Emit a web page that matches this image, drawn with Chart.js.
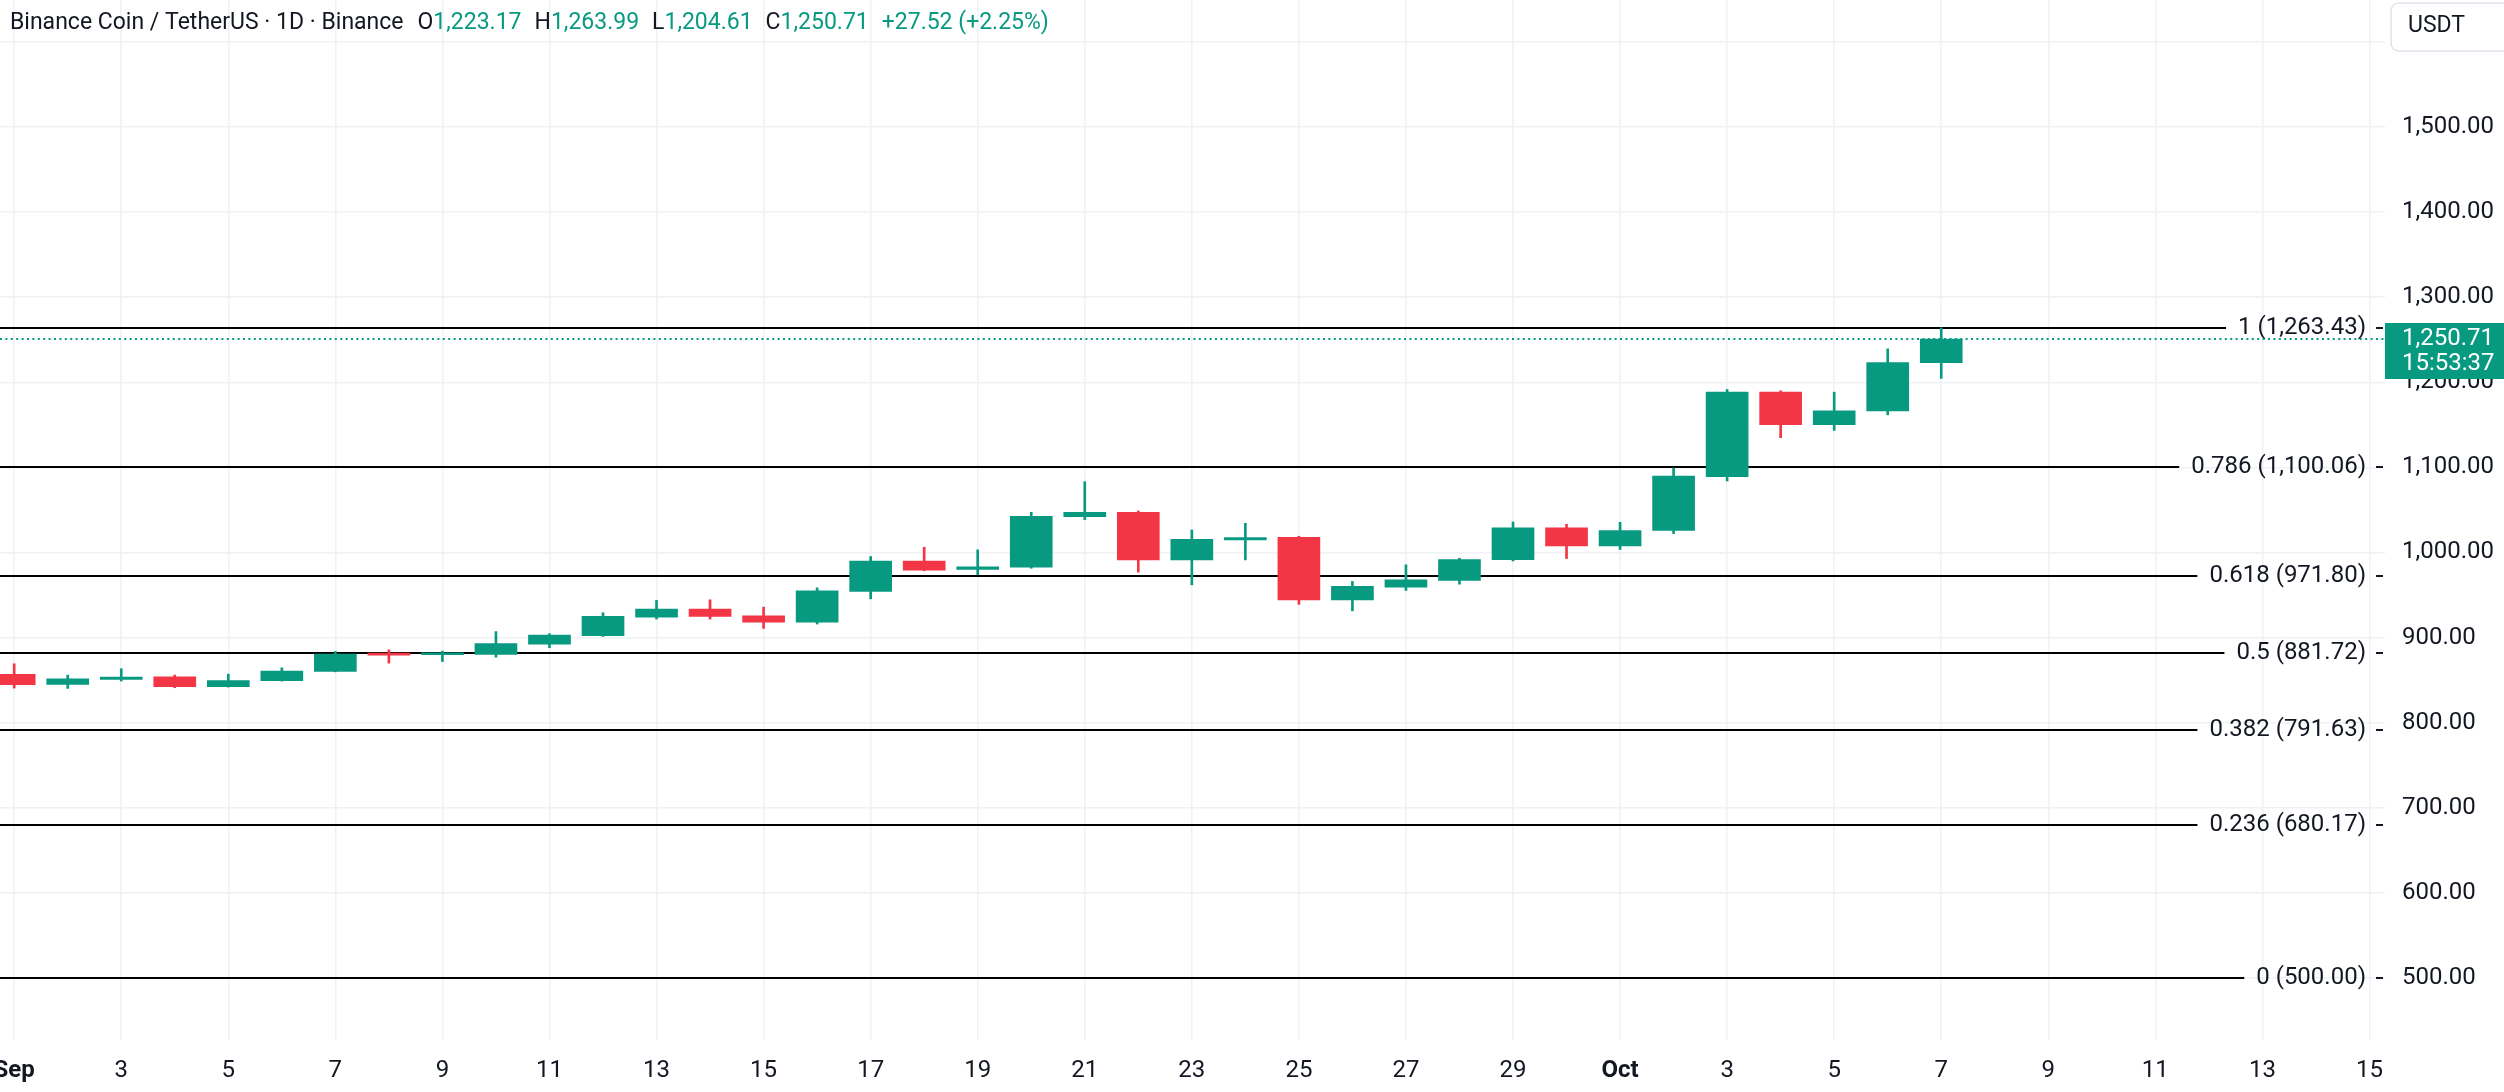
<!DOCTYPE html>
<html>
<head>
<meta charset="utf-8">
<script src="https://cdn.jsdelivr.net/npm/chart.js@4.4.1/dist/chart.umd.min.js"></script>
<style>
  html, body { margin: 0; padding: 0; background: #fff; }
  #wrap { width: 2504px; height: 1092px; }
</style>
</head>
<body>
<div id="wrap"><canvas id="chart" width="2504" height="1092"></canvas></div>
<script>
// BNB/USDT daily candles, Sep 1 - Oct 7
const dates  = ["Sep 1","Sep 2","Sep 3","Sep 4","Sep 5","Sep 6","Sep 7","Sep 8","Sep 9","Sep 10",
                "Sep 11","Sep 12","Sep 13","Sep 14","Sep 15","Sep 16","Sep 17","Sep 18","Sep 19","Sep 20",
                "Sep 21","Sep 22","Sep 23","Sep 24","Sep 25","Sep 26","Sep 27","Sep 28","Sep 29","Sep 30",
                "Oct 1","Oct 2","Oct 3","Oct 4","Oct 5","Oct 6","Oct 7"];
const opens  = [856.7, 845.0, 850.8, 854.0, 842.2, 849.3, 860.2, 881.7, 879.8, 880.2,
                892.4, 902.2, 924.1, 933.5, 925.7, 918.2, 954.2, 989.8, 980.0, 982.7,
                1042.2, 1047.2, 991.3, 1014.8, 1017.9, 944.4, 959.3, 967.1, 991.7, 1028.9,
                1007.8, 1025.8, 1089.1, 1188.4, 1150.1, 1166.5, 1223.17];
const highs  = [869.2, 855.9, 863.4, 856.0, 857.1, 864.5, 883.7, 885.6, 884.1, 907.1,
                904.6, 929.2, 943.7, 944.4, 935.8, 958.5, 995.3, 1006.2, 1003.1, 1047.2,
                1083.2, 1048.8, 1026.5, 1034.3, 1019.1, 966.0, 985.5, 993.3, 1035.9, 1033.2,
                1035.5, 1099.3, 1191.6, 1190.0, 1188.4, 1239.3, 1263.99];
const lows   = [840.7, 840.3, 848.9, 841.1, 841.8, 848.9, 859.8, 870.0, 871.9, 877.0,
                888.1, 901.4, 921.8, 921.8, 910.8, 915.9, 945.6, 978.5, 973.8, 981.5,
                1038.6, 976.9, 962.0, 991.3, 939.0, 931.5, 955.4, 962.8, 990.0, 992.9,
                1003.5, 1022.2, 1084.0, 1134.9, 1143.5, 1161.8, 1204.61];
const closes = [844.6, 851.6, 853.6, 842.2, 849.6, 860.6, 880.5, 879.4, 882.1, 893.1,
                903.0, 924.9, 933.5, 924.9, 918.2, 955.0, 989.8, 979.2, 983.1, 1042.6,
                1047.2, 991.3, 1015.6, 1017.5, 944.4, 960.1, 967.9, 991.7, 1028.9, 1007.8,
                1025.8, 1089.9, 1188.4, 1150.1, 1166.5, 1223.19, 1250.71];

// time axis ticks (day index from Sep 1)
const xTickDays   = [0, 2, 4, 6, 8, 10, 12, 14, 16, 18, 20, 22, 24, 26, 28, 30, 32, 34, 36, 38, 40, 42, 44];
const xTickLabels = ["Sep","3","5","7","9","11","13","15","17","19","21","23","25","27","29",
                     "Oct","3","5","7","9","11","13","15"];
const yTicks = [500, 600, 700, 800, 900, 1000, 1100, 1200, 1300, 1400, 1500, 1600];

// fib retracement levels
const fibRatios = ["1", "0.786", "0.618", "0.5", "0.382", "0.236", "0"];
const fibPrices = [1263.43, 1100.06, 971.80, 881.72, 791.63, 680.17, 500.00];

const countdown = "15:53:37";

const UP = "#089981", DOWN = "#F23645", TEXT = "#131722", GRID = "#f0f1f4";
const FONT = "Roboto";
const fmt = (v) => v.toLocaleString("en-US", { minimumFractionDigits: 2, maximumFractionDigits: 2 });

const candleColors = opens.map((o, i) => closes[i] >= o ? UP : DOWN);
const lastClose = closes[closes.length - 1];

const overlay = {
  id: "overlay",
  beforeDatasetsDraw(chart) {
    const { ctx, chartArea: a, scales: { y } } = chart;
    ctx.save();
    ctx.font = `24px ${FONT}`;
    ctx.textBaseline = "middle";
    fibPrices.forEach((p, i) => {
      const py = Math.round(y.getPixelForValue(p));
      const label = `${fibRatios[i]} (${fmt(p)})`;
      const w = ctx.measureText(label).width;
      const tx = a.right - 19;
      ctx.fillStyle = TEXT;
      ctx.textAlign = "right";
      ctx.fillText(label, tx, py);
      ctx.fillRect(a.right - 9, py - 1, 7, 2);
      ctx.strokeStyle = "#000";
      ctx.lineWidth = 2;
      ctx.beginPath();
      ctx.moveTo(a.left, py);
      ctx.lineTo(tx - w - 12, py);
      ctx.stroke();
    });
    // last price dotted line
    const ly = Math.round(y.getPixelForValue(lastClose));
    ctx.strokeStyle = UP;
    ctx.lineWidth = 2;
    ctx.setLineDash([2, 3.4]);
    ctx.beginPath();
    ctx.moveTo(a.left, ly);
    ctx.lineTo(a.right, ly);
    ctx.stroke();
    ctx.restore();
  },
  afterDraw(chart) {
    const { ctx, chartArea: a, scales: { y } } = chart;
    ctx.save();
    ctx.textBaseline = "middle";
    ctx.textAlign = "left";

    // legend line at top-left
    ctx.font = `23px ${FONT}`;
    const prev = closes[closes.length - 2];
    const chg = lastClose - prev;
    const parts = [
      ["Binance Coin / TetherUS · 1D · Binance", TEXT, 14],
      ["O", TEXT, 0], [fmt(opens[opens.length - 1]), UP, 13],
      ["H", TEXT, 0], [fmt(highs[highs.length - 1]), UP, 13],
      ["L", TEXT, 0], [fmt(lows[lows.length - 1]), UP, 13],
      ["C", TEXT, 0], [fmt(lastClose), UP, 13],
      [`${chg >= 0 ? "+" : ""}${chg.toFixed(2)} (${chg >= 0 ? "+" : ""}${(chg / prev * 100).toFixed(2)}%)`, UP, 0]
    ];
    let x = 10;
    parts.forEach(([t, c, gap]) => {
      ctx.fillStyle = c;
      ctx.fillText(t, x, 23);
      x += ctx.measureText(t).width + gap;
    });

    // currency box
    ctx.fillStyle = "#fff";
    ctx.strokeStyle = "#e0e3eb";
    ctx.lineWidth = 1.5;
    ctx.beginPath();
    ctx.roundRect(2391, 3, 130, 48, 8);
    ctx.fill();
    ctx.stroke();
    ctx.font = `23px ${FONT}`;
    ctx.fillStyle = TEXT;
    ctx.fillText("USDT", 2408, 26);

    // last price label on the scale
    const ly = Math.round(y.getPixelForValue(lastClose));
    ctx.fillStyle = UP;
    ctx.fillRect(a.right, ly - 16, 2504 - a.right, 56);
    ctx.fillStyle = "#fff";
    ctx.font = `24px ${FONT}`;
    ctx.fillText(fmt(lastClose), a.right + 17, ly);
    ctx.fillText(countdown, a.right + 17, ly + 25);
    ctx.restore();
  }
};

const toPoints = (lo, hi) => dates.map((d, i) => ({ x: i, y: [lo[i], hi[i]] }));

new Chart(document.getElementById("chart"), {
  type: "bar",
  data: {
    datasets: [
      { label: "body", data: toPoints(opens, closes), backgroundColor: candleColors,
        barThickness: 42, grouped: false, borderWidth: 0, borderSkipped: false, order: 1 },
      { label: "wick", data: toPoints(lows, highs), backgroundColor: candleColors,
        barThickness: 2, grouped: false, borderWidth: 0, borderSkipped: false, order: 2 }
    ]
  },
  options: {
    responsive: false,
    animation: false,
    devicePixelRatio: 1,
    layout: { padding: 0 },
    plugins: { legend: { display: false }, tooltip: { enabled: false }, title: { display: false } },
    scales: {
      x: {
        type: "linear",
        offset: false,
        min: -0.265,
        max: 44.29,
        afterBuildTicks: (s) => { s.ticks = xTickDays.map(v => ({ value: v })); },
        afterFit: (s) => { s.height = 52; s.paddingLeft = 0; s.paddingRight = 0; },
        grid: { color: GRID, lineWidth: 1.5, drawTicks: false, offset: false },
        border: { display: false },
        ticks: {
          autoSkip: false, maxRotation: 0, padding: 17, color: TEXT,
          callback: (v, i) => xTickLabels[i],
          font: (c) => ({ family: FONT, size: 24, weight: /^[A-Z]/.test(xTickLabels[c.index] || "") ? "bold" : "normal" })
        }
      },
      y: {
        position: "right",
        min: 427.14,
        max: 1649.24,
        afterBuildTicks: (s) => { s.ticks = yTicks.map(v => ({ value: v })); },
        afterFit: (s) => { s.width = 119; s.paddingTop = 0; s.paddingBottom = 0; },
        grid: { color: GRID, lineWidth: 1.5, drawTicks: false },
        border: { display: false },
        ticks: {
          padding: 17, color: TEXT, font: { family: FONT, size: 24 },
          callback: (v) => v >= 1600 ? "" : fmt(v)
        }
      }
    }
  },
  plugins: [overlay]
});
</script>
</body>
</html>
